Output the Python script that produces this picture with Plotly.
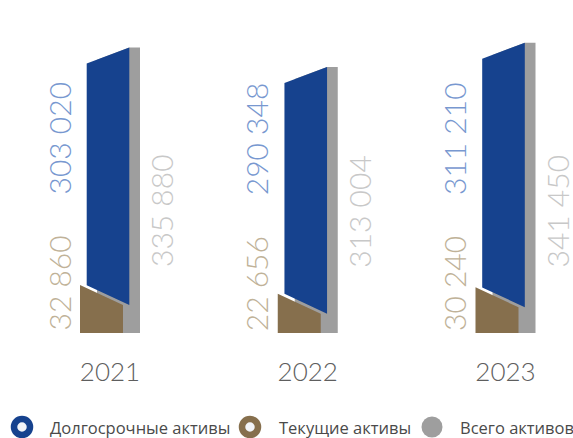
import plotly.graph_objects as go

# ---- data ----
years = ["2021", "2022", "2023"]
long_term = [303020, 290348, 311210]
current = [32860, 22656, 30240]
total = [335880, 313004, 341450]
long_term_labels = ["303 020", "290 348", "311 210"]
current_labels = ["32 860", "22 656", "30 240"]
total_labels = ["335 880", "313 004", "341 450"]
legend_names = ["Долгосрочные активы", "Текущие активы", "Всего активов"]

# ---- style / layout constants ----
W, H = 573, 438
PLOT_BOTTOM = 333            # pixel row of value 0
PX_PER_UNIT = 0.00085        # vertical scale
U = 1 / PX_PER_UNIT          # data units per pixel
GROUP_PX = 197.75            # pixels between categories
X0 = 110                     # pixel of first category centre
XU = 1 / GROUP_PX            # category units per pixel

BLUE = "#16428E"
BROWN = "#866F4D"
GREY = "#9E9E9E"
BLUE_TXT = "#7898D0"
BROWN_TXT = "#C0B298"
GREY_TXT = "#C8C8C8"

BROWN_L, BROWN_R = -30, 13
BLUE_L, BLUE_R = -23.3, 19.3
GREY_L, GREY_R = -13, 30
SLANT_B, SLANT_T, GAP = 20, 16, 3

y_max = PLOT_BOTTOM * U
x_min = -X0 * XU
x_max = x_min + W * XU


def px(i, dx):
    return i + dx * XU


brown_x, brown_y, blue_x, blue_y, grey_x, grey_y = [], [], [], [], [], []
for i in range(len(years)):
    cur = current[i]
    top = current[i] + long_term[i]
    tot = total[i]

    def y_bt(dx):
        return cur + SLANT_B * U * (BROWN_R - dx) / (BROWN_R - BROWN_L)

    def y_bb(dx):
        return y_bt(dx) + GAP * U

    def y_tt(dx):
        return top - SLANT_T * U * (BLUE_R - dx) / (BLUE_R - BLUE_L)

    brown_x += [px(i, BROWN_L), px(i, BROWN_R), px(i, BROWN_R), px(i, BROWN_L), None]
    brown_y += [0, 0, cur, y_bt(BROWN_L), None]

    blue_x += [px(i, BLUE_L), px(i, BLUE_R), px(i, BLUE_R), px(i, BLUE_L), None]
    blue_y += [y_bb(BLUE_L), y_bb(BLUE_R), top, y_tt(BLUE_L), None]

    grey_x += [px(i, GREY_L), px(i, GREY_R), px(i, GREY_R), px(i, BLUE_R), px(i, GREY_L), None]
    grey_y += [0, 0, tot, tot, y_tt(GREY_L), None]

fig = go.Figure()
for xs, ys, col in [(grey_x, grey_y, GREY), (brown_x, brown_y, BROWN), (blue_x, blue_y, BLUE)]:
    fig.add_trace(go.Scatter(x=xs, y=ys, fill="toself", fillcolor=col, mode="lines",
                             line=dict(width=0, color=col), hoverinfo="skip", showlegend=False))

LBL_FONT = dict(family="Lato", size=30, weight=300)
for i in range(len(years)):
    fig.add_annotation(x=px(i, -52), y=0, text=current_labels[i], textangle=-90,
                       xanchor="center", yanchor="bottom", showarrow=False, height=30,
                       font=dict(LBL_FONT, color=BROWN_TXT))
    fig.add_annotation(x=px(i, -52), y=(PLOT_BOTTOM - 197) * U, text=long_term_labels[i], textangle=-90,
                       xanchor="center", yanchor="bottom", showarrow=False, height=30,
                       font=dict(LBL_FONT, color=BLUE_TXT))
    fig.add_annotation(x=px(i, 51), y=(PLOT_BOTTOM - 211) * U, text=total_labels[i], textangle=-90,
                       xanchor="center", yanchor="middle", showarrow=False, height=30,
                       font=dict(LBL_FONT, color=GREY_TXT))

# ---- legend (manual) ----
def pxp(x):
    return x / W


def pyp(y):
    return (PLOT_BOTTOM - y) / PLOT_BOTTOM


LEG_Y = 427
ring = [(22, BLUE), (250, BROWN)]
for cx, col in ring:
    r = 8
    fig.add_shape(type="circle", xref="paper", yref="paper",
                  x0=pxp(cx - r), x1=pxp(cx + r), y0=pyp(LEG_Y + r), y1=pyp(LEG_Y - r),
                  line=dict(color=col, width=6.5), fillcolor="#F2F4F8")
r = 10.5
fig.add_shape(type="circle", xref="paper", yref="paper",
              x0=pxp(432 - r), x1=pxp(432 + r), y0=pyp(LEG_Y + r), y1=pyp(LEG_Y - r),
              line=dict(color=GREY, width=0), fillcolor=GREY)
for tx, name in zip([48, 277, 458], legend_names):
    fig.add_annotation(xref="paper", yref="paper", x=pxp(tx), y=pyp(LEG_Y), text=name,
                       xanchor="left", yanchor="middle", showarrow=False,
                       font=dict(family="Open Sans", size=16.5, color="#4A4A4A"))

fig.update_layout(
    width=W, height=H,
    margin=dict(l=0, r=0, t=0, b=H - PLOT_BOTTOM),
    paper_bgcolor="white", plot_bgcolor="white",
    xaxis=dict(range=[x_min, x_max], tickvals=[0, 1, 2], ticktext=years,
               ticks="outside", ticklen=16, tickcolor="rgba(0,0,0,0)",
               tickfont=dict(family="Lato", size=26, weight=300, color="#5E5E5E"),
               showgrid=False, zeroline=False, showline=False, fixedrange=True),
    yaxis=dict(range=[0, y_max], visible=False, showgrid=False, zeroline=False, fixedrange=True),
    showlegend=False,
)

fig.write_html("out.html", config={"displayModeBar": False},
               post_script="document.body.style.margin='0';document.body.style.overflow='hidden';")
